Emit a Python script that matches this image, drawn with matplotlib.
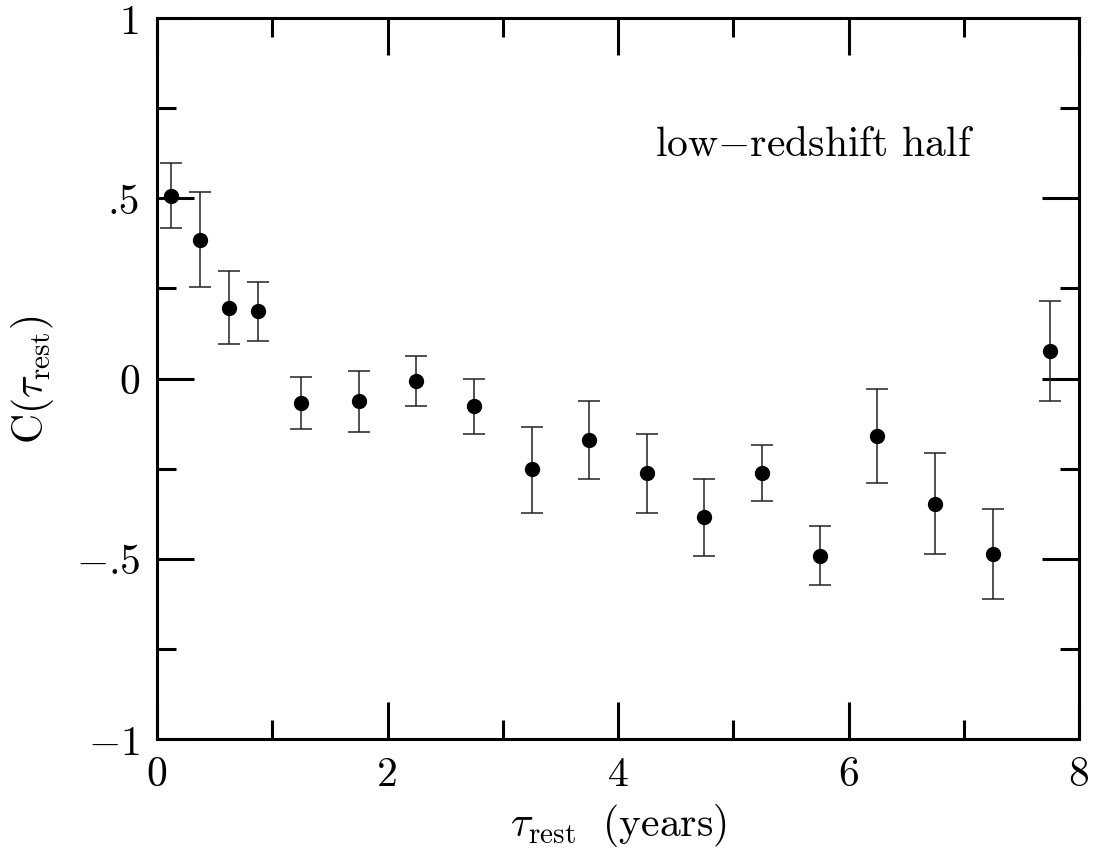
import matplotlib
matplotlib.use("Agg")
import matplotlib.pyplot as plt
import numpy as np

plt.rcParams['mathtext.fontset'] = 'cm'
plt.rcParams['font.family'] = 'DejaVu Sans'

tau = [0.125, 0.375, 0.625, 0.875, 1.25, 1.75, 2.25, 2.75, 3.25, 3.75,
       4.25, 4.75, 5.25, 5.75, 6.25, 6.75, 7.25, 7.75]
corr = [0.507, 0.385, 0.195, 0.186, -0.068, -0.063, -0.006, -0.076, -0.251, -0.170,
        -0.262, -0.385, -0.262, -0.492, -0.160, -0.348, -0.487, 0.076]
err_hi = [0.598, 0.517, 0.297, 0.269, 0.005, 0.022, 0.063, -0.001, -0.135, -0.062,
          -0.154, -0.279, -0.184, -0.409, -0.029, -0.207, -0.361, 0.215]
err_lo = [0.417, 0.253, 0.096, 0.105, -0.141, -0.148, -0.076, -0.154, -0.373, -0.279,
          -0.373, -0.492, -0.341, -0.574, -0.291, -0.487, -0.612, -0.063]

xticks = [0, 2, 4, 6, 8]
xticklabels = ['0', '2', '4', '6', '8']
yticks = [-1, -0.5, 0, 0.5, 1]
yticklabels = ['$-$1', '$-$.5', '0', '.5', '1']

fig = plt.figure(figsize=(10.95, 8.54), dpi=100)
ax = fig.add_axes([157/1095, (854-740)/854, (1079-157)/1095, (740-19)/854])

corr_a = np.array(corr)
yerr = [corr_a - np.array(err_lo), np.array(err_hi) - corr_a]
ax.errorbar(tau, corr, yerr=yerr, fmt='o', color='black', ecolor='#222222',
            elinewidth=1.1, capsize=8, capthick=1.1, markersize=10, zorder=3)

ax.set_xlim(0, 8)
ax.set_ylim(-1, 1)
ax.set_xticks(xticks)
ax.set_xticklabels(xticklabels, fontfamily='cmr10')
ax.set_xticks([1, 3, 5, 7], minor=True)
ax.set_yticks(yticks)
ax.set_yticklabels(yticklabels, fontfamily='cmr10')
ax.set_yticks([-0.75, -0.25, 0.25, 0.75], minor=True)

ax.tick_params(which='both', direction='in', top=True, right=True, width=2.2,
               labelsize=30, colors='black')
ax.tick_params(which='major', length=26.5, pad=12)
ax.tick_params(which='minor', length=13.5)
for s in ax.spines.values():
    s.set_linewidth(2.2)

ax.set_xlabel(r'$\tau_{\rm rest}\ \ ({\rm years})$', fontsize=30, labelpad=6)
ax.set_ylabel(r'$\mathrm{C}(\tau_{\rm rest})$', fontsize=30, labelpad=14)

ax.text(4.32, 0.65, r'low$-$redshift half', fontsize=30, fontfamily='cmr10',
        ha='left', va='center')

fig.savefig('out.png', dpi=100)
